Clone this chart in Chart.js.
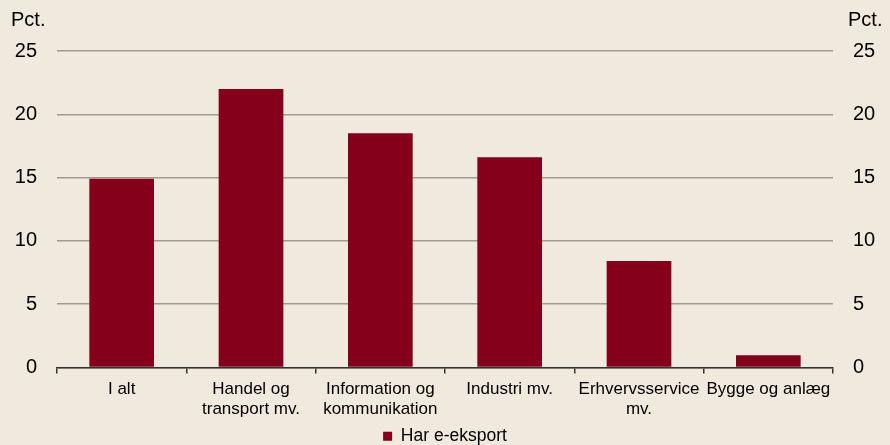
<!DOCTYPE html>
<html>
<head>
<meta charset="utf-8">
<script src="https://cdn.jsdelivr.net/npm/chart.js@4.4.1/dist/chart.umd.min.js"></script>
<style>
  html, body { margin: 0; padding: 0; background: #f0e9de; }
  #wrap { width: 890px; height: 445px; position: relative; }
</style>
</head>
<body>
<div id="wrap"><canvas id="eksportChart"></canvas></div>
<script>
const categories = [
    'I alt',
    ['Handel og', 'transport mv.'],
    ['Information og', 'kommunikation'],
    'Industri mv.',
    ['Erhvervsservice', 'mv.'],
    'Bygge og anlæg'
];
const eksportValues = [14.9, 22.0, 18.5, 16.6, 8.4, 0.95];
const seriesName = 'Har e-eksport';
const yTicks = [0, 5, 10, 15, 20, 25];
const unitLabel = 'Pct.';

// writes "Pct." above both y axes
const unitPlugin = {
    id: 'unitLabels',
    afterDraw(chart) {
        const ctx = chart.ctx;
        const area = chart.chartArea;
        ctx.save();
        ctx.fillStyle = '#000';
        ctx.font = '20px "Liberation Sans", Arial, sans-serif';
        ctx.textBaseline = 'middle';
        ctx.textAlign = 'left';
        ctx.fillText(unitLabel, 11, area.top - 31);
        ctx.fillText(unitLabel, 848, area.top - 31);
        ctx.restore();
    }
};

const tickFont = { family: '"Liberation Sans", Arial, sans-serif', size: 20 };
const yScale = function (pos) {
    return {
        position: pos,
        min: yTicks[0],
        max: yTicks[yTicks.length - 1],
        afterBuildTicks: function (axis) {
            axis.ticks = yTicks.map(v => ({ value: v }));
        },
        afterFit: function (axis) {
            axis.width = 44;
        },
        grid: {
            display: pos === 'left',
            color: '#a09a94',
            lineWidth: 1.5,
            drawTicks: false
        },
        border: { display: false },
        ticks: { color: '#000', font: tickFont, padding: 20 }
    };
};

const ctx = document.getElementById('eksportChart').getContext('2d');
new Chart(ctx, {
    type: 'bar',
    data: {
        labels: categories,
        datasets: [{
            label: seriesName,
            data: eksportValues,
            backgroundColor: '#85001b',
            borderColor: '#85001b',
            borderWidth: 0,
            barPercentage: 1,
            categoryPercentage: 0.5,
            yAxisID: 'y'
        }]
    },
    options: {
        responsive: true,
        maintainAspectRatio: false,
        animation: false,
        layout: { padding: { top: 51, left: 13, right: 13, bottom: -10 } },
        plugins: {
            legend: {
                position: 'bottom',
                labels: {
                    color: '#000',
                    font: { family: '"Liberation Sans", Arial, sans-serif', size: 17.5 },
                    boxWidth: 9,
                    boxHeight: 9,
                    padding: 2
                }
            },
            tooltip: { enabled: false }
        },
        scales: {
            x: {
                grid: {
                    display: true,
                    offset: true,
                    drawOnChartArea: false,
                    drawTicks: true,
                    tickLength: 6,
                    color: '#333',
                    lineWidth: 1.5
                },
                border: { display: true, color: '#333', width: 1.5 },
                ticks: {
                    color: '#000',
                    font: { family: '"Liberation Sans", Arial, sans-serif', size: 17, lineHeight: 1.18 },
                    maxRotation: 0,
                    autoSkip: false,
                    padding: 6
                }
            },
            y: yScale('left'),
            y2: yScale('right')
        }
    },
    plugins: [unitPlugin]
});
</script>
</body>
</html>
